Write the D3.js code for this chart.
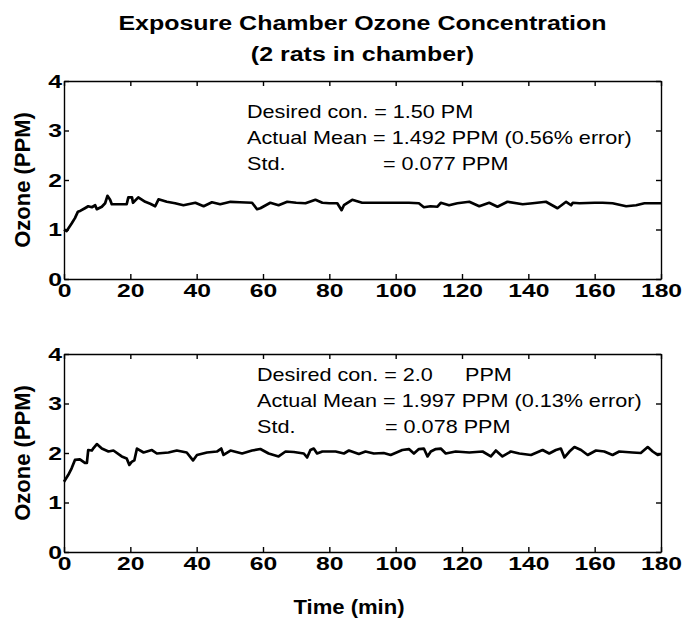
<!DOCTYPE html>
<html>
<head>
<meta charset="utf-8">
<script src="https://cdn.jsdelivr.net/npm/d3@7"></script>
<style>
    body { margin: 0; background: #fff; }
    svg { display: block; font-family: "Liberation Sans", Arial, sans-serif; }
    .axis path, .axis line { stroke: #000; stroke-width: 1.4; }
    .axis text { font-family: "Liberation Sans", Arial, sans-serif; font-size: 19px; font-weight: bold; fill: #000; }
    .trace { fill: none; stroke: #000; stroke-width: 2.7; stroke-linejoin: round; }
    .note { font-size: 18px; fill: #000; }
    .label { font-weight: bold; fill: #000; }
</style>
</head>
<body>
<svg id="chart" width="685" height="618"></svg>
<script>

var titleLines = ["Exposure Chamber Ozone Concentration", "(2 rats in chamber)"];
var xLabel = "Time (min)";
var yLabel = "Ozone (PPM)";
var xTickValues = [0, 20, 40, 60, 80, 100, 120, 140, 160, 180];
var yTickValues = [0, 1, 2, 3, 4];

// [minute, ppm]
var seriesTop = [
    [0, 1.0], [0.8, 0.97], [1.5, 1.04], [2.3, 1.12], [3.3, 1.23], [4.2, 1.36], [5, 1.38],
    [6.3, 1.43], [7.3, 1.47], [8.4, 1.45], [9.4, 1.49], [9.9, 1.41], [11.4, 1.46], [12.4, 1.53],
    [13.1, 1.68], [13.9, 1.6], [14.4, 1.51], [16, 1.51], [18.9, 1.51], [19.4, 1.65], [20.5, 1.65],
    [20.8, 1.54], [22.4, 1.65], [24.5, 1.56], [26, 1.52], [27.5, 1.47], [28.5, 1.61], [31, 1.56],
    [33.5, 1.53], [36, 1.49], [39.6, 1.54], [42.1, 1.47], [44.6, 1.55], [47.1, 1.51], [50.2, 1.56],
    [53, 1.55], [56.7, 1.54], [58.2, 1.41], [59.2, 1.43], [62.2, 1.54], [64.7, 1.49], [67.3, 1.56],
    [70, 1.54], [72.8, 1.53], [75.8, 1.6], [77.9, 1.54], [80, 1.53], [82.4, 1.53], [83.7, 1.39],
    [84.4, 1.49], [86.9, 1.6], [89.9, 1.54], [95, 1.54], [100, 1.54], [104, 1.54], [107, 1.53],
    [108.5, 1.45], [110.5, 1.47], [112.6, 1.46], [113.6, 1.54], [116.1, 1.49], [118.6, 1.53],
    [122.2, 1.56], [125.2, 1.47], [128.2, 1.54], [130.7, 1.46], [133.7, 1.56], [138.3, 1.51],
    [141.3, 1.53], [145.3, 1.56], [148.8, 1.43], [151.4, 1.56], [152.9, 1.49], [153.4, 1.54],
    [155.4, 1.53], [160, 1.54], [162.4, 1.54], [165.4, 1.53], [169.5, 1.47], [172.5, 1.49],
    [175, 1.53], [180, 1.53]
];

var seriesBottom = [
    [0, 1.42], [1.3, 1.56], [2.3, 1.69], [3.3, 1.86], [4.8, 1.87], [6.3, 1.8], [6.9, 1.8],
    [7.3, 2.06], [8.4, 2.05], [8.9, 2.1], [9.9, 2.18], [11.4, 2.09], [13.4, 2.03], [14.9, 2.05],
    [17.4, 1.93], [18.9, 1.89], [19.7, 1.76], [20.4, 1.82], [21.2, 1.85], [22, 2.09], [24, 2.01],
    [26.5, 2.06], [28, 1.99], [31.5, 2.01], [34, 2.05], [37, 2.01], [38.9, 1.85], [40.1, 1.96],
    [43.1, 2.01], [46.1, 2.03], [47.4, 2.09], [48.1, 1.96], [50.2, 2.05], [53.7, 1.99], [56.7, 2.05],
    [59.2, 2.08], [61.7, 1.99], [64.7, 1.93], [66.8, 2.03], [69.3, 2.02], [72.3, 1.99], [73.3, 1.91],
    [74.3, 2.06], [75.3, 2.09], [76.3, 1.99], [77.9, 2.03], [81.9, 2.03], [84.4, 1.99], [85.9, 2.05],
    [88.9, 1.98], [90.9, 2.03], [93.4, 1.99], [96.4, 2.0], [98.5, 1.96], [102, 2.06], [104, 2.08],
    [105.5, 1.99], [107, 2.08], [108.5, 2.09], [109.6, 1.93], [110.6, 2.03], [112.1, 2.08],
    [113.6, 2.09], [115.1, 1.99], [118.1, 2.03], [122.2, 2.01], [126.2, 2.03], [128.7, 1.93],
    [130.2, 2.05], [132.2, 1.93], [134.7, 2.03], [137.3, 1.99], [140.8, 1.96], [144.3, 2.06],
    [146.3, 1.99], [148.3, 2.06], [149.8, 2.09], [150.9, 1.91], [152.4, 2.03], [153.9, 2.12],
    [155.9, 2.06], [157.9, 1.96], [160.4, 2.05], [162.9, 2.03], [165.4, 1.96], [167.4, 2.03],
    [171.4, 2.01], [173.9, 2.0], [176, 2.12], [177.5, 2.03], [179, 1.96], [180, 1.98]
];

var notesTop = ["Desired con. = 1.50 PM", "Actual Mean = 1.492 PPM (0.56% error)", "Std."];
var notesTopExtra = ["= 0.077 PPM"];
var notesBottom = ["Desired con. = 2.0", "Actual Mean = 1.997 PPM (0.13% error)", "Std."];
var notesBottomExtra = ["PPM", "= 0.078 PPM"];

var svg = d3.select("#chart");

var left = 64, right = 661;

var x = d3.scaleLinear()
    .domain([0, 180])
    .range([left, right]);

function stretchText(parent, px, py, str, sx, cls, anchor) {
    return parent.append("text")
        .attr("class", cls)
        .attr("transform", "translate(" + px + "," + py + ") scale(" + sx + ",1)")
        .attr("text-anchor", anchor || "start")
        .text(str);
}

// title
stretchText(svg, 362.5, 30, titleLines[0], 1.2, "label", "middle").style("font-size", "20.8px");
stretchText(svg, 362.5, 61, titleLines[1], 1.2, "label", "middle").style("font-size", "20.8px");

var panels = [
    {series: seriesTop, top: 81, bottom: 279, notes: notesTop, noteX: 247, noteY: 118,
        extra: [[383, 170]], extraText: notesTopExtra},
    {series: seriesBottom, top: 354, bottom: 552, notes: notesBottom, noteX: 257, noteY: 381,
        extra: [[465, 381], [385, 433]], extraText: notesBottomExtra}
];

panels.forEach(function(p) {
    var y = d3.scaleLinear()
        .domain([0, 4])
        .range([p.bottom, p.top]);

    var line = d3.line()
        .x(function(d) { return x(d[0]); })
        .y(function(d) { return y(d[1]); });

    var g = svg.append("g");

    var xAxis = d3.axisBottom(x)
        .tickValues(xTickValues)
        .tickSizeInner(-5)
        .tickSizeOuter(0)
        .tickPadding(4.5);

    var yAxis = d3.axisLeft(y)
        .tickValues(yTickValues)
        .tickFormat(d3.format("d"))
        .tickSizeInner(-5)
        .tickSizeOuter(0)
        .tickPadding(1.5);

    var gx = g.append("g")
        .attr("class", "axis axis--x")
        .attr("transform", "translate(0," + p.bottom + ")")
        .call(xAxis);
    gx.selectAll(".tick text").attr("transform", "scale(1.3,1)");

    var gy = g.append("g")
        .attr("class", "axis axis--y")
        .attr("transform", "translate(" + left + ",0)")
        .call(yAxis);
    gy.selectAll(".tick text").attr("transform", "scale(1.3,1)");

    g.append("g")
        .attr("class", "axis")
        .attr("transform", "translate(0," + p.top + ")")
        .call(d3.axisTop(x).tickValues(xTickValues).tickSizeInner(-5).tickSizeOuter(0).tickFormat(""));

    g.append("g")
        .attr("class", "axis")
        .attr("transform", "translate(" + right + ",0)")
        .call(d3.axisRight(y).tickValues(yTickValues).tickSizeInner(-5).tickSizeOuter(0).tickFormat(""));

    g.append("path")
        .datum(p.series)
        .attr("class", "trace")
        .attr("d", line);

    p.notes.forEach(function(s, i) {
        stretchText(g, p.noteX, p.noteY + i * 26, s, 1.2, "note");
    });
    p.extraText.forEach(function(s, i) {
        stretchText(g, p.extra[i][0], p.extra[i][1], s, 1.2, "note");
    });

    g.append("text")
        .attr("class", "label")
        .attr("transform", "translate(30," + ((p.top + p.bottom) / 2) + ") rotate(-90)")
        .attr("text-anchor", "middle")
        .style("font-size", "22px")
        .text(yLabel);
});

stretchText(svg, 349, 614, xLabel, 1.05, "label", "middle").style("font-size", "21px");

</script>
</body>
</html>
